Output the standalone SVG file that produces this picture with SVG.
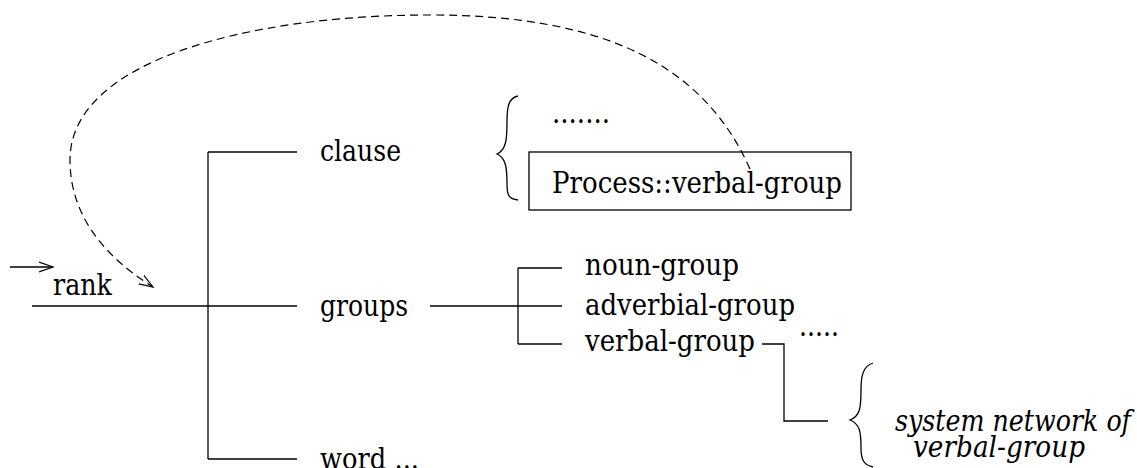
<svg xmlns="http://www.w3.org/2000/svg" width="1137" height="468" viewBox="0 0 1137 468">
<style>
  text { font-family: "DejaVu Serif", "Liberation Serif", serif; font-size: 30px; fill: #000; }
  .i { font-style: italic; font-size: 29px; }
  .ln { stroke: #000; stroke-width: 1.3; fill: none; }
  .dash { stroke: #000; stroke-width: 1.2; fill: none; stroke-dasharray: 8 5; }
</style>
<defs>
  <marker id="open" markerWidth="16" markerHeight="12" refX="14" refY="6" orient="auto" markerUnits="userSpaceOnUse">
    <path d="M0,1 L14,6 L0,11" fill="none" stroke="#000" stroke-width="1.2"/>
  </marker>
</defs>
<g id="connectors">
  <line class="ln" x1="10" y1="267" x2="53" y2="267" marker-end="url(#open)"/>
  <line class="ln" x1="32" y1="306" x2="297" y2="306"/>
  <line class="ln" x1="208" y1="152" x2="208" y2="459"/>
  <line class="ln" x1="208" y1="152" x2="297" y2="152"/>
  <line class="ln" x1="208" y1="459" x2="297" y2="459"/>
  <line class="ln" x1="430" y1="306" x2="562" y2="306"/>
  <line class="ln" x1="518" y1="268" x2="518" y2="344"/>
  <line class="ln" x1="518" y1="268" x2="562" y2="268"/>
  <line class="ln" x1="518" y1="344" x2="562" y2="344"/>
  <polyline class="ln" points="762,344 784,344 784,421 828,421"/>
  <path class="dash" d="M750,169 C705,68 610,15 430,15 C250,15 70,60 70,160 C70,220 110,260 153,287" marker-end="url(#open)"/>
</g>
<g id="rank"><text x="53" y="295" textLength="59" lengthAdjust="spacingAndGlyphs">rank</text></g>
<g id="clause"><text x="320" y="161" textLength="81" lengthAdjust="spacingAndGlyphs">clause</text></g>
<g id="groups"><text x="320" y="316" textLength="88" lengthAdjust="spacingAndGlyphs">groups</text></g>
<g id="word"><text x="320" y="469" textLength="99" lengthAdjust="spacingAndGlyphs">word ...</text></g>
<g id="clause-brace">
  <path class="ln" d="M518,96 C508,98 507,108 507,122 C507,140 506,150 497,154 C506,158 507,168 507,184 C507,196 509,199 518,200"/>
  <text x="552" y="123" textLength="58" lengthAdjust="spacingAndGlyphs">.......</text>
</g>
<g id="process">
  <rect class="ln" x="529" y="152" width="322" height="58"/>
  <text x="552" y="193" textLength="290" lengthAdjust="spacingAndGlyphs">Process::verbal-group</text>
</g>
<g id="noun-group"><text x="585" y="275" textLength="154" lengthAdjust="spacingAndGlyphs">noun-group</text></g>
<g id="adverbial-group"><text x="585" y="315" textLength="210" lengthAdjust="spacingAndGlyphs">adverbial-group</text></g>
<g id="verbal-group"><text x="585" y="351" textLength="170" lengthAdjust="spacingAndGlyphs">verbal-group</text></g>
<g id="more"><text x="799" y="336" textLength="40" lengthAdjust="spacingAndGlyphs">.....</text></g>
<g id="system-network">
  <path class="ln" d="M873,363 C863,366 861,376 861,390 C861,408 860,416 850,420 C860,424 861,432 861,448 C861,460 864,465 873,467"/>
  <text class="i" x="895" y="431" textLength="236" lengthAdjust="spacingAndGlyphs">system network of</text>
  <text class="i" x="913" y="457" textLength="172" lengthAdjust="spacingAndGlyphs">verbal-group</text>
</g>
</svg>
